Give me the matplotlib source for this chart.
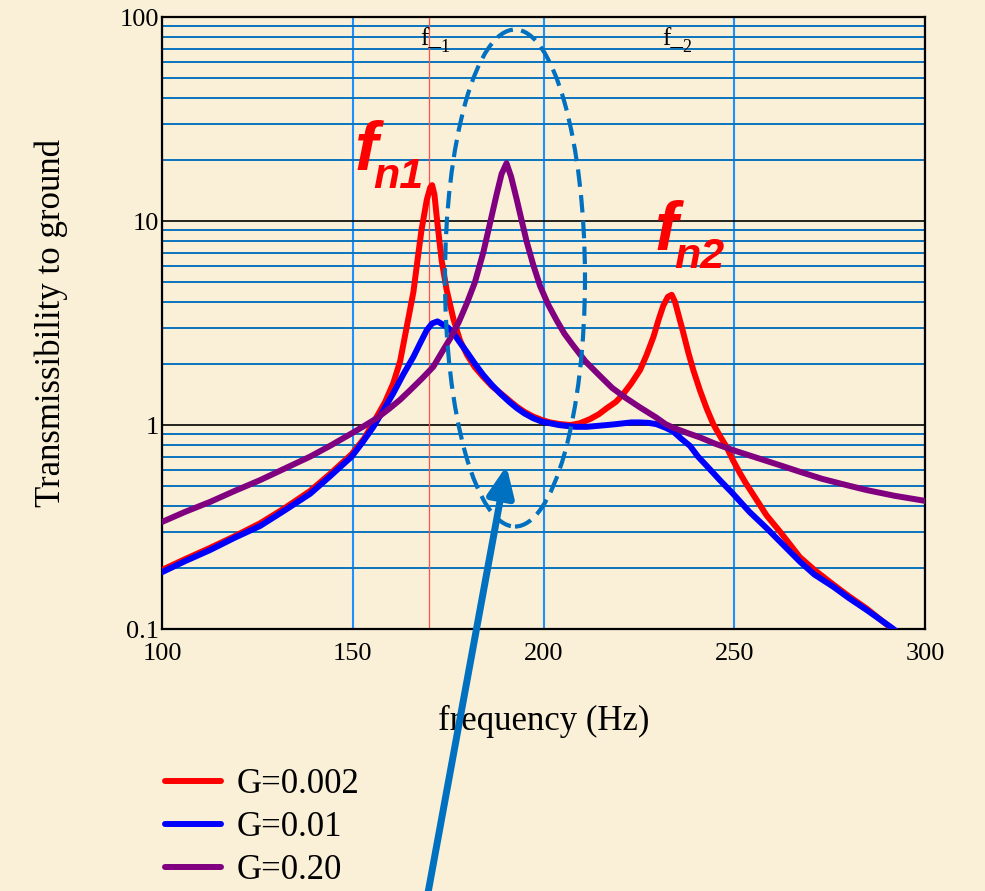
import numpy as np
import matplotlib
matplotlib.use('Agg')
import matplotlib.pyplot as plt
from matplotlib.patches import Ellipse, FancyArrowPatch
from matplotlib.ticker import LogLocator, NullFormatter

plt.rcParams['font.family'] = ['Liberation Serif', 'DejaVu Serif']

# data
freq_g002 = [100, 106, 112.6, 119, 125.7, 132, 138.8, 144, 149.7, 153, 156.3, 158.5,
             160.6, 162.4, 164.1, 165.9, 167, 168, 169.4, 170.3, 170.8, 171.4, 172,
             172.7, 173.3, 174.6, 176.4, 178.1, 180, 182, 184.2, 186.5, 188.6, 191,
             193, 195, 197.3, 199.5, 201.7, 204.5, 207, 209.5, 212.2, 214.5, 216.6,
             219, 220.9, 223, 225.3, 227, 228.8, 230.2, 231.4, 232.6, 233.6, 234.5,
             235.5, 236.6, 238, 239.3, 241, 242.8, 244.5, 246.3, 248, 249.7, 251.5,
             253, 255.5, 258.5, 262, 267.2, 271, 276, 280, 284.7, 290, 296]
trans_g002 = [0.195, 0.22, 0.25, 0.285, 0.33, 0.39, 0.475, 0.575, 0.72, 0.86, 1.1, 1.3,
              1.6, 2.05, 3.0, 4.5, 6.5, 9.0, 12.7, 14.6, 15.0, 13.5, 10.5,
              8.0, 6.4, 4.6, 3.3, 2.6, 2.2, 1.92, 1.72, 1.55, 1.44, 1.32,
              1.23, 1.16, 1.1, 1.06, 1.03, 1.01, 1.0, 1.02, 1.07, 1.13, 1.21,
              1.3, 1.42, 1.6, 1.86, 2.2, 2.7, 3.3, 3.85, 4.25, 4.35, 4.0,
              3.4, 2.85, 2.25, 1.85, 1.48, 1.2, 1.01, 0.88, 0.78, 0.67, 0.58,
              0.52, 0.44, 0.36, 0.3, 0.225, 0.195, 0.165, 0.145, 0.126, 0.105, 0.087]

freq_g01 = [100, 106, 112.6, 119, 125.7, 132, 138.8, 144, 149.7, 152.5, 155.4, 158,
            160.6, 163.3, 165.9, 167.8, 169.4, 170.8, 172.2, 173.5, 175, 176.5, 178,
            179.9, 182, 184.2, 186.5, 188.6, 191, 193, 195, 197.3, 199.5, 201.7, 204,
            206, 208.5, 211.3, 214, 216.6, 219, 221, 223, 225.3, 227.5, 229.6, 232,
            234, 236, 238.4, 240.5, 242.8, 246.3, 249.7, 254, 258.5, 262, 267.2, 271,
            276, 280, 284.7, 290.8, 296]
trans_g01 = [0.19, 0.215, 0.244, 0.28, 0.32, 0.38, 0.46, 0.56, 0.70, 0.82, 0.98, 1.18,
             1.43, 1.78, 2.16, 2.55, 2.92, 3.15, 3.22, 3.12, 3.0, 2.8, 2.55,
             2.28, 2.0, 1.76, 1.57, 1.43, 1.3, 1.21, 1.14, 1.08, 1.04, 1.02, 1.0,
             0.99, 0.98, 0.98, 0.99, 1.0, 1.01, 1.02, 1.03, 1.03, 1.025, 1.01, 0.97,
             0.93, 0.86, 0.79, 0.7, 0.63, 0.535, 0.46, 0.375, 0.312, 0.268, 0.214, 0.185,
             0.161, 0.142, 0.124, 0.103, 0.087]

freq_g20 = [100, 106, 112.6, 119, 125.7, 132, 138.8, 144, 149.7, 153, 156.3, 159.5,
            162.4, 165, 168, 171.1, 172.9, 175.5, 177.8, 179.9, 182, 184.2, 186,
            187.7, 189, 190.3, 191.5, 193, 194.3, 195.6, 197.3, 199.1, 201.2, 203.4,
            205.5, 207.8, 211, 214.8, 218, 221.5, 225.3, 229.5, 232, 234, 238, 241,
            245, 250, 256, 262, 267.2, 273, 279, 284.7, 292, 300]
trans_g20 = [0.335, 0.375, 0.42, 0.475, 0.537, 0.61, 0.70, 0.79, 0.91, 0.99, 1.08, 1.2,
             1.33, 1.48, 1.68, 1.93, 2.2, 2.65, 3.2, 3.95, 5.0, 7.0, 9.8,
             13.5, 17.0, 19.2, 16.5, 12.7, 10.0, 7.9, 6.1, 4.8, 3.9, 3.27,
             2.8, 2.45, 2.05, 1.74, 1.52, 1.36, 1.22, 1.09, 1.01, 0.97, 0.91, 0.87,
             0.81, 0.75, 0.69, 0.635, 0.59, 0.545, 0.51, 0.48, 0.45, 0.425]

series_labels = ['G=0.002', 'G=0.01', 'G=0.20']
series_colors = ['red', 'blue', 'purple']
f1_line = 170
ytick_vals = [0.1, 1, 10, 100]
ytick_labels = ['0.1', '1', '10', '100']
xtick_vals = [100, 150, 200, 250, 300]

bg = '#FAF0D8'
arrow_blue = '#0070C0'

fig = plt.figure(figsize=(9.85, 8.91), dpi=100, facecolor=bg)
ax = fig.add_axes([0.1645, 0.294, 0.7746, 0.6869])
ax.set_facecolor(bg)

ax.set_yscale('log')
ax.set_xlim(100, 300)
ax.set_ylim(0.1, 100)
ax.set_xticks(xtick_vals)
ax.set_xticklabels([str(v) for v in xtick_vals])
ax.set_yticks(ytick_vals)
ax.set_yticklabels(ytick_labels)
ax.yaxis.set_minor_locator(LogLocator(base=10, subs=np.arange(2, 10)))
ax.yaxis.set_minor_formatter(NullFormatter())
ax.set_axisbelow(True)
ax.grid(which='minor', axis='y', color='#0A74BE', lw=1.4)
ax.grid(which='major', axis='y', color='black', lw=1.2)
ax.grid(which='major', axis='x', color='#1E8FFF', lw=1.5)
ax.tick_params(which='both', length=0, labelsize=19)
ax.tick_params(axis='x', pad=10)
ax.tick_params(axis='y', pad=2)
for sp in ax.spines.values():
    sp.set_linewidth(1.6)

# thin red marker line at f1
ax.axvline(f1_line, color='#FF5050', lw=0.9, zorder=2.5)

for fr, tr, lab, col in zip([freq_g002, freq_g01, freq_g20],
                            [trans_g002, trans_g01, trans_g20],
                            series_labels, series_colors):
    ax.plot(fr, tr, color=col, lw=4.3, label=lab, solid_capstyle='round',
            solid_joinstyle='round', zorder=3)

ax.set_xlabel('frequency (Hz)', fontsize=25)
ax.xaxis.set_label_coords(0.5, -0.124)
ax.set_ylabel('Transmissibility to ground', fontsize=25)
ax.yaxis.set_label_coords(-0.123, 0.5)

# f_1 / f_2 markers at the top
ax.text(0.338, 0.954, 'f_', fontsize=18, transform=ax.transAxes, va='baseline')
ax.text(0.3645, 0.943, '1', fontsize=13, transform=ax.transAxes, va='baseline')
ax.text(0.655, 0.954, 'f_', fontsize=18, transform=ax.transAxes, va='baseline')
ax.text(0.6815, 0.943, '2', fontsize=13, transform=ax.transAxes, va='baseline')

# big natural frequency labels
fn_font = dict(family='Liberation Sans', weight='bold', style='italic', color='red')
ax.text(0.252, 0.750, 'f', fontsize=50, transform=ax.transAxes, va='baseline', **fn_font)
ax.text(0.2765, 0.720, 'n1', fontsize=31, transform=ax.transAxes, va='baseline', **fn_font)
ax.text(0.645, 0.620, 'f', fontsize=50, transform=ax.transAxes, va='baseline', **fn_font)
ax.text(0.672, 0.590, 'n2', fontsize=31, transform=ax.transAxes, va='baseline', **fn_font)

# dashed ellipse around the middle peak
ell = Ellipse((0.4626, 0.5735), 0.1835, 0.812, transform=ax.transAxes,
              fill=False, edgecolor=arrow_blue, lw=3, linestyle=(0, (4.2, 2)), zorder=4)
ax.add_patch(ell)

leg = ax.legend(loc='upper left', bbox_to_anchor=(0.1675, 0.138),
                bbox_transform=fig.transFigure, frameon=False, fontsize=25,
                handlelength=1.6, handletextpad=0.45, labelspacing=0.29,
                borderpad=0, borderaxespad=0)

arr = FancyArrowPatch((426.7 / 985, -0.01), (507 / 985, 428 / 891),
                      transform=fig.transFigure, arrowstyle='-|>,head_length=1.8,head_width=0.8',
                      mutation_scale=10, lw=5, color=arrow_blue, zorder=10)
fig.add_artist(arr)

fig.savefig('out.png', dpi=100, facecolor=bg)
